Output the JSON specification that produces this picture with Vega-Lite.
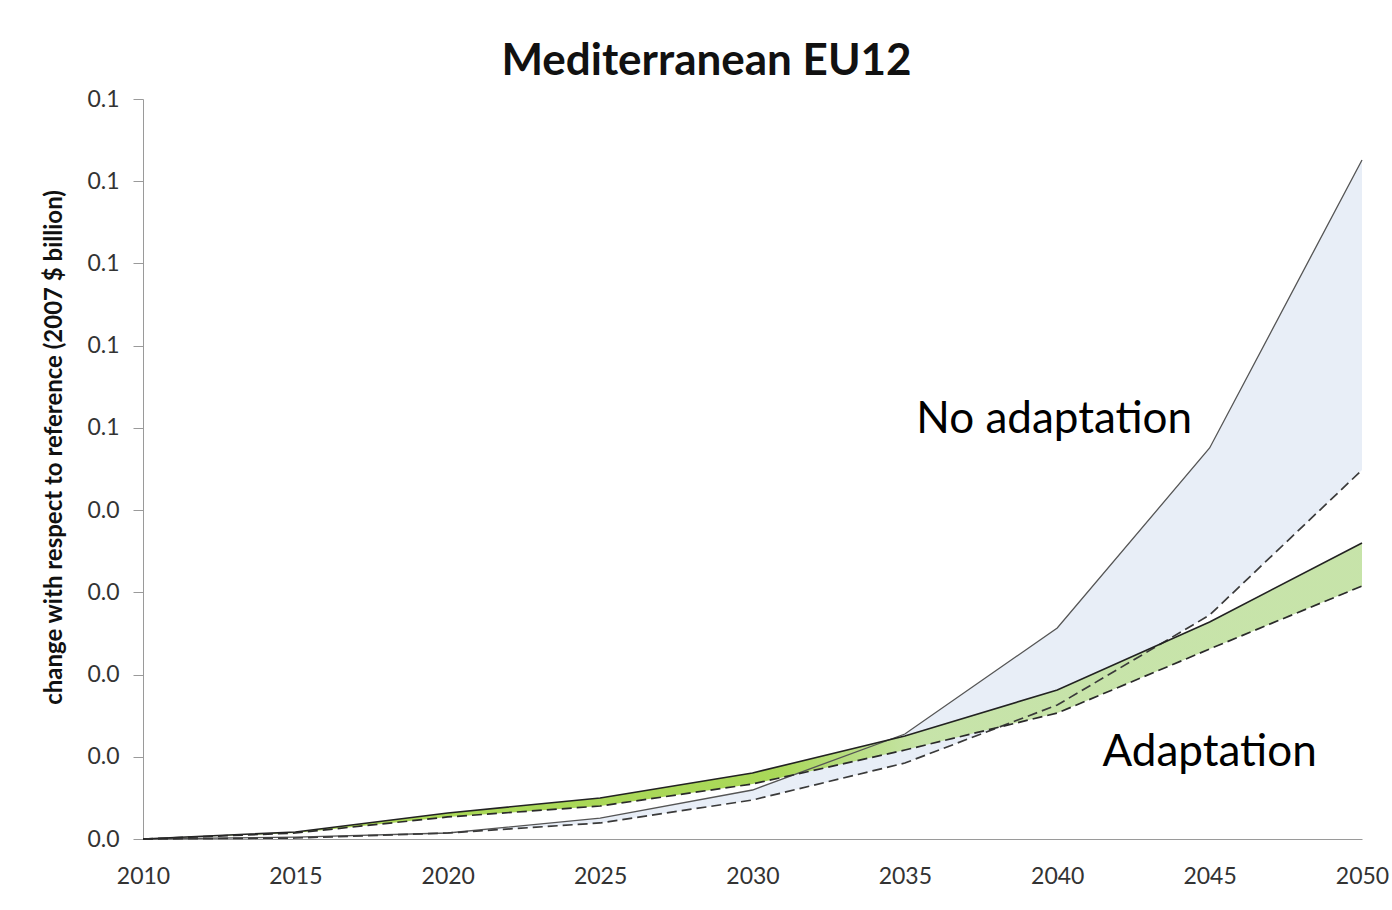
{
  "$schema": "https://vega.github.io/schema/vega-lite/v6.json",
  "autosize": "none",
  "width": 1219,
  "height": 740,
  "padding": {"left": 143, "top": 99, "right": 30, "bottom": 71},
  "background": "white",
  "config": {
    "view": {"stroke": null},
    "font": "Lato",
    "axis": {"grid": false, "domainColor": "#9a9a9a", "tickColor": "#9a9a9a", "labelColor": "#333333", "labelFont": "Lato", "labelFontSize": 23, "titleFont": "Lato"}
  },
  "title": {"text": "Mediterranean EU12", "fontSize": 44, "fontWeight": "bold", "font": "Lato", "color": "#111111", "anchor": "middle", "dx": -46, "offset": 4},
  "data": {"values": [
    {"year": 2010, "na_hi": 0.0, "na_lo": 0.0, "a_hi": 0.0, "a_lo": 0.0},
    {"year": 2015, "na_hi": 0.00024, "na_lo": 0.00012, "a_hi": 0.00085, "a_lo": 0.00073},
    {"year": 2020, "na_hi": 0.00073, "na_lo": 0.00073, "a_hi": 0.00316, "a_lo": 0.00268},
    {"year": 2025, "na_hi": 0.00255, "na_lo": 0.00195, "a_hi": 0.00499, "a_lo": 0.00401},
    {"year": 2030, "na_hi": 0.00596, "na_lo": 0.00474, "a_hi": 0.00803, "a_lo": 0.00669},
    {"year": 2035, "na_hi": 0.01277, "na_lo": 0.00924, "a_hi": 0.01253, "a_lo": 0.01082},
    {"year": 2040, "na_hi": 0.02566, "na_lo": 0.0163, "a_hi": 0.01812, "a_lo": 0.01532},
    {"year": 2045, "na_hi": 0.04756, "na_lo": 0.02724, "a_hi": 0.02639, "a_lo": 0.02311},
    {"year": 2050, "na_hi": 0.08258, "na_lo": 0.04488, "a_hi": 0.036, "a_lo": 0.03077}
  ]},
  "encoding": {
    "x": {"field": "year", "type": "quantitative", "scale": {"domain": [2010, 2050], "nice": false, "zero": false},
      "axis": {"title": null, "values": [2010, 2015, 2020, 2025, 2030, 2035, 2040, 2045, 2050], "format": "d", "ticks": false, "labelPadding": 26, "labelFlush": false}}
  },
  "layer": [
    {"mark": {"type": "area", "color": "#e8eef7"},
     "encoding": {"y": {"field": "na_lo", "type": "quantitative", "scale": {"domain": [0, 0.09], "nice": false},
        "axis": {"title": "change with respect to reference (2007 $ billion)", "titleFontSize": 24, "titleFontWeight": "bold", "titleColor": "#111111", "titlePadding": 20, "titleY": 348, "values": [0, 0.01, 0.02, 0.03, 0.04, 0.05, 0.06, 0.07, 0.08, 0.09], "format": ".1f", "tickSize": 10, "labelPadding": 14}},
       "y2": {"field": "na_hi"}}},
    {"mark": {"type": "area", "opacity": 0.95, "color": {"gradient": "linear", "x1": 0, "y1": 0, "x2": 1, "y2": 0, "stops": [
        {"offset": 0, "color": "#a6d64c"},
        {"offset": 0.52, "color": "#a5d650"},
        {"offset": 0.64, "color": "#c5e3a5"},
        {"offset": 1, "color": "#c4e2a5"}]}},
     "encoding": {"y": {"field": "a_lo", "type": "quantitative"}, "y2": {"field": "a_hi"}}},
    {"mark": {"type": "line", "color": "#555555", "strokeWidth": 1.3},
     "encoding": {"y": {"field": "na_hi", "type": "quantitative"}}},
    {"mark": {"type": "line", "color": "#3a3a3a", "strokeWidth": 1.7, "strokeDash": [10, 5]},
     "encoding": {"y": {"field": "na_lo", "type": "quantitative"}}},
    {"mark": {"type": "line", "color": "#222222", "strokeWidth": 1.6},
     "encoding": {"y": {"field": "a_hi", "type": "quantitative"}}},
    {"mark": {"type": "line", "color": "#2a2a2a", "strokeWidth": 1.7, "strokeDash": [10, 5]},
     "encoding": {"y": {"field": "a_lo", "type": "quantitative"}}},
    {"data": {"values": [
        {"year": 2039.9, "v": 0.0510, "label": "No adaptation"},
        {"year": 2045.0, "v": 0.0104, "label": "Adaptation"}
      ]},
     "mark": {"type": "text", "fontSize": 44, "font": "Lato", "color": "#000000", "align": "center", "baseline": "middle"},
     "encoding": {"x": {"field": "year", "type": "quantitative"}, "y": {"field": "v", "type": "quantitative"}, "text": {"field": "label"}}}
  ]
}
